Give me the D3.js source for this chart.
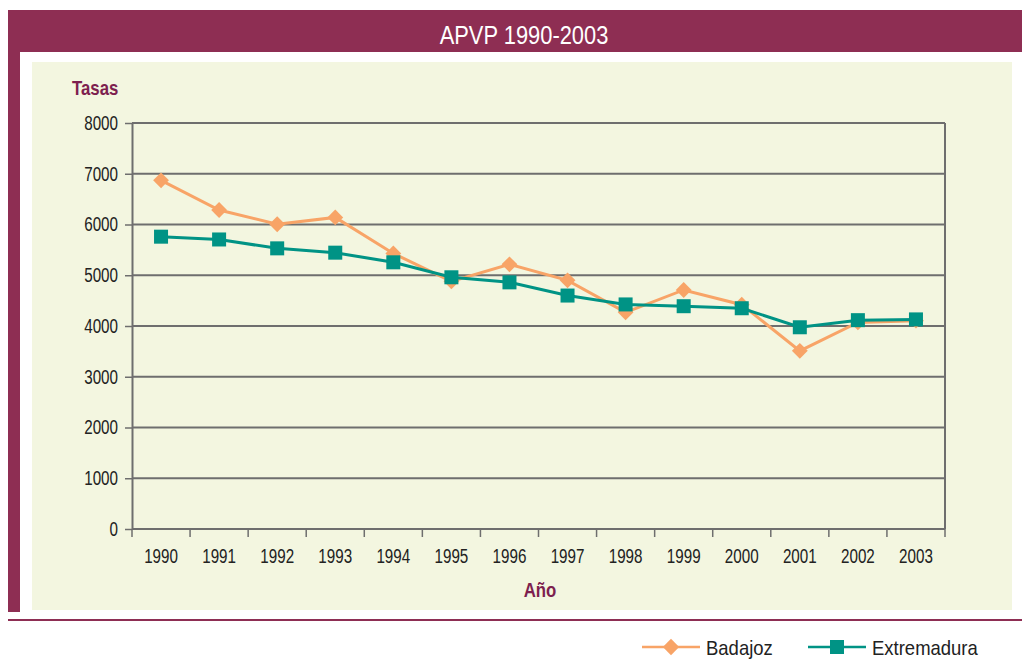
<!DOCTYPE html>
<html>
<head>
<meta charset="utf-8">
<script src="https://cdn.jsdelivr.net/npm/d3@7"></script>
<style>
  body { margin: 0; background: #fff; }
  svg { display: block; }
  text { font-family: "Liberation Sans", Arial, sans-serif; }
</style>
</head>
<body>
<div id="chart"></div>
<script>
// data
var years = ["1990","1991","1992","1993","1994","1995","1996","1997","1998","1999","2000","2001","2002","2003"];
var badajoz = [6870, 6285, 6005, 6140, 5430, 4880, 5215, 4900, 4270, 4710, 4420, 3510, 4070, 4105];
var extremadura = [5760, 5705, 5530, 5445, 5255, 4960, 4860, 4600, 4425, 4390, 4350, 3975, 4115, 4130];
var yTicks = [0, 1000, 2000, 3000, 4000, 5000, 6000, 7000, 8000];

var W = 1022, H = 665;
var maroon = "#8e2e53", labelMaroon = "#7d1f4f", cream = "#f3f6e0",
    orange = "#f8a467", teal = "#009385", grid = "#6e6e6e";

// squeeze text horizontally to look like the condensed face of the original
function condense(sel, k) {
  sel.each(function() {
    var len = this.getComputedTextLength();
    d3.select(this).attr("textLength", len * k).attr("lengthAdjust", "spacingAndGlyphs");
  });
}

var svg = d3.select("#chart").append("svg")
  .attr("width", W).attr("height", H);

// frame: header band, left strip, cream panel
svg.append("rect").attr("x", 8).attr("y", 10).attr("width", W - 8).attr("height", 42).attr("fill", maroon);
svg.append("rect").attr("x", 8).attr("y", 10).attr("width", 12).attr("height", 602).attr("fill", maroon);
svg.append("rect").attr("x", 32).attr("y", 62).attr("width", 980).attr("height", 548).attr("fill", cream);
svg.append("line").attr("x1", 8).attr("x2", W).attr("y1", 620).attr("y2", 620)
  .attr("stroke", maroon).attr("stroke-width", 2);

svg.append("text").attr("x", 524).attr("y", 44).attr("text-anchor", "middle")
  .attr("fill", "#fff").style("font-size", "25px").text("APVP 1990-2003")
  .call(condense, 0.875);

// plot area
var margin = {left: 132, top: 123},
    width = 945 - 132,
    height = 529 - 123;
var g = svg.append("g").attr("transform", "translate(" + margin.left + "," + margin.top + ")");

var x = d3.scaleBand().domain(years).range([0, width]);
var y = d3.scaleLinear().domain([0, 8000]).range([height, 0]);

// grid lines
g.selectAll("line.grid").data(yTicks).enter().append("line")
  .attr("class", "grid")
  .attr("x1", 0).attr("x2", width)
  .attr("y1", d => y(d)).attr("y2", d => y(d))
  .attr("stroke", grid).attr("stroke-width", 2);
g.append("line").attr("x1", width).attr("x2", width).attr("y1", 0).attr("y2", height)
  .attr("stroke", grid).attr("stroke-width", 2);

// y axis
var yAxis = g.append("g")
  .call(d3.axisLeft(y).tickValues(yTicks).tickFormat(d3.format("d"))
    .tickSize(7).tickPadding(7).tickSizeOuter(0));
yAxis.select(".domain").attr("stroke", grid).attr("stroke-width", 2);
yAxis.selectAll(".tick line").attr("stroke", grid).attr("stroke-width", 1.5);
yAxis.selectAll("text").style("font-size", "20px").attr("fill", "#222")
  .style("font-family", "'Liberation Sans', Arial, sans-serif")
  .call(condense, 0.76);

// x axis: ticks on band boundaries
var xb = g.append("g").attr("transform", "translate(0," + height + ")");
var bounds = d3.range(years.length + 1).map(i => i * x.step());
xb.selectAll("line").data(bounds).enter().append("line")
  .attr("x1", d => d).attr("x2", d => d).attr("y1", 0).attr("y2", 8)
  .attr("stroke", grid).attr("stroke-width", 1.5);
xb.selectAll("text").data(years).enter().append("text")
  .attr("x", d => x(d) + x.bandwidth() / 2)
  .attr("y", 34)
  .attr("text-anchor", "middle")
  .attr("fill", "#222")
  .style("font-size", "20px")
  .text(d => d)
  .call(condense, 0.76);

// axis titles
svg.append("text").attr("x", 72).attr("y", 95).attr("fill", labelMaroon)
  .style("font-size", "21px").style("font-weight", "bold").text("Tasas")
  .call(condense, 0.8);
svg.append("text").attr("x", 540).attr("y", 597).attr("text-anchor", "middle").attr("fill", labelMaroon)
  .style("font-size", "21px").style("font-weight", "bold").text("Año")
  .call(condense, 0.8);

// series
var cx = (d, i) => x(years[i]) + x.bandwidth() / 2;
var line = d3.line().x(cx).y(d => y(d));

g.append("path").datum(badajoz).attr("d", line)
  .attr("fill", "none").attr("stroke", orange).attr("stroke-width", 3);
g.selectAll("path.dia").data(badajoz).enter().append("path")
  .attr("class", "dia")
  .attr("d", d3.symbol(d3.symbolDiamond2, 160))
  .attr("transform", (d, i) => "translate(" + cx(d, i) + "," + y(d) + ")")
  .attr("fill", orange);

g.append("path").datum(extremadura).attr("d", line)
  .attr("fill", "none").attr("stroke", teal).attr("stroke-width", 3);
g.selectAll("rect.sq").data(extremadura).enter().append("rect")
  .attr("class", "sq")
  .attr("x", (d, i) => cx(d, i) - 7).attr("y", d => y(d) - 7)
  .attr("width", 14).attr("height", 14)
  .attr("fill", teal);

// legend
var legend = [
  {name: "Badajoz", color: orange, shape: "diamond", x: 642},
  {name: "Extremadura", color: teal, shape: "square", x: 808}
];
var lg = svg.selectAll("g.leg").data(legend).enter().append("g")
  .attr("transform", d => "translate(" + d.x + ",647)");
lg.append("line").attr("x1", 0).attr("x2", 58).attr("stroke", d => d.color).attr("stroke-width", 2.5);
lg.filter(d => d.shape === "diamond").append("path")
  .attr("d", d3.symbol(d3.symbolDiamond2, 170))
  .attr("transform", "translate(29,0)")
  .attr("fill", d => d.color);
lg.filter(d => d.shape === "square").append("rect")
  .attr("x", 22).attr("y", -7).attr("width", 14).attr("height", 14)
  .attr("fill", d => d.color);
lg.append("text").attr("x", 64).attr("y", 8).attr("fill", "#222")
  .style("font-size", "21px").text(d => d.name)
  .call(condense, 0.88);
</script>
</body>
</html>
